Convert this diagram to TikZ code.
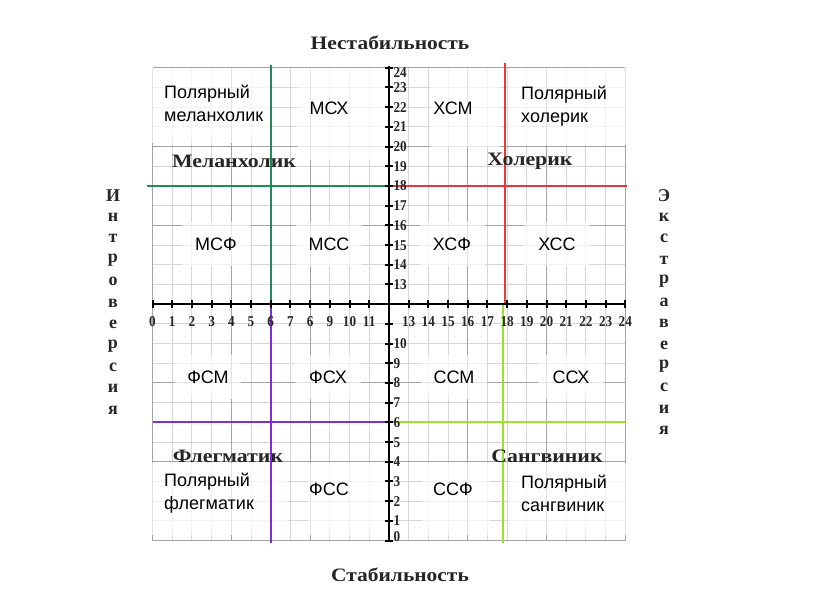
\documentclass[tikz,border=0pt]{standalone}
\usepackage{fontspec}
\setmainfont{Liberation Serif}
\newfontfamily\lsans{Liberation Sans}
\definecolor{mgreen}{HTML}{1F8C5C}
\definecolor{mred}{HTML}{E03A3A}
\definecolor{mpurple}{HTML}{7B2FD6}
\definecolor{mlime}{HTML}{9EE02A}
\definecolor{gridminor}{HTML}{D6D6D6}
\definecolor{gridmajor}{HTML}{A4A4A4}
\definecolor{titlegray}{HTML}{262626}
\tikzset{
  codetext/.style={font=\lsans\fontsize{18}{23}\selectfont, inner sep=0pt, text=black},
  polar/.style={codetext, align=left, anchor=west},
  whitebox/.style={fill=white, fill opacity=0.7, draw=none},
  typetext/.style={font=\bfseries\fontsize{19}{20}\selectfont, text=titlegray, inner sep=0pt},
  axistitle/.style={font=\bfseries\fontsize{19}{20}\selectfont, text=titlegray, inner sep=0pt},
  vletter/.style={font=\bfseries\fontsize{18}{19}\selectfont, text=titlegray, inner sep=0pt},
  numlab/.style={font=\bfseries\fontsize{15}{16}\selectfont, text=titlegray, inner sep=0pt},
  axisline/.style={line width=2.6pt, black},
  tickline/.style={line width=2pt, black},
  typeline/.style={line width=2pt},
}
\newcommand{\nb}[1]{\scalebox{0.88}[1]{#1}}
\begin{document}
\begin{tikzpicture}[x=1pt,y=-1pt]
\useasboundingbox (0,0) rectangle (818,598);
\fill[white] (0,0) rectangle (818,598);
% grid
\begin{scope}[shift={(152.5,540.5)},x=19.7pt,y=19.7pt]
  \draw[gridminor, line width=0.9pt, step=1] (0,0) grid (24,24);
  \draw[gridmajor, line width=1.1pt, step=4] (0,0) grid (24,24);
\end{scope}
% white boxes
\fill[whitebox] (152,68) rectangle (270,143);
\fill[whitebox] (297,68) rectangle (388,160);
\fill[whitebox] (430,68) rectangle (500,147);
\fill[whitebox] (508,68) rectangle (627,145);
\fill[whitebox] (182,222) rectangle (250,266);
\fill[whitebox] (296,222) rectangle (362,266);
\fill[whitebox] (420,222) rectangle (485,266);
\fill[whitebox] (524,222) rectangle (590,266);
\fill[whitebox] (175,355) rectangle (241,399);
\fill[whitebox] (295,355) rectangle (361,399);
\fill[whitebox] (421,355) rectangle (487,399);
\fill[whitebox] (538,355) rectangle (604,399);
\fill[whitebox] (152,463) rectangle (288,535);
\fill[whitebox] (308,463) rectangle (386,535);
\fill[whitebox] (422,463) rectangle (490,535);
\fill[whitebox] (508,463) rectangle (627,535);
\begin{scope}[shift={(152.5,540.5)},x=19.7pt,y=19.7pt]
  % type lines
  \draw[typeline, mgreen] (6,24.15) -- (6,12);
  \draw[typeline, mgreen] (-0.3,18) -- (12,18);
  \draw[typeline, mred] (17.9,24.25) -- (17.9,12);
  \draw[typeline, mred] (12,18) -- (24.1,18);
  \draw[typeline, mpurple] (6,12) -- (6,-0.15);
  \draw[typeline, mpurple] (0,6) -- (12,6);
  \draw[typeline, mlime] (17.8,12) -- (17.8,-0.15);
  \draw[typeline, mlime] (12,6) -- (24,6);
  % axes
  \draw[axisline] (0,12) -- (24,12);
  \draw[axisline] (12,0) -- (12,24.1);
  \foreach \i in {0,...,24} {
    \draw[tickline] (\i,12) ++(0,-4pt) -- ++(0,8pt);
    \draw[tickline] (12,\i) ++(-4pt,0) -- ++(8pt,0);
  }
  % x labels
  \foreach \i/\t in {0/0,1/1,2/2,3/3,4/4,5/5,6/6,7/7,8/6,9/9,10/10,11/11,
                     13/13,14/14,15/15,16/16,17/17,18/18,19/19,20/20,21/21,22/22,23/23,24/24}
    \node[numlab, anchor=base] (x\i) at ([yshift=-22pt]\i,12) {\nb{\t}};
  % y labels
  \foreach \j in {1,...,10,13,14,...,23}
    \node[numlab, anchor=base west] (y\j) at ([xshift=4.5pt,yshift=-5pt]12,\j) {\nb{\j}};
  \node[numlab, anchor=base west] (y24) at ([xshift=4.5pt,yshift=-10pt]12,24) {\nb{24}};
  \node[numlab, anchor=base west] (y0) at ([xshift=4.5pt,yshift=-1pt]12,0) {\nb{0}};
\end{scope}
% code labels
\node[polar] (pm) at (164,103.5) {Полярный\\меланхолик};
\node[polar] (ph) at (521,106) {Полярный\\холерик};
\node[polar] (pf) at (164,493) {Полярный\\флегматик};
\node[polar] (ps) at (521,493) {Полярный\\сангвиник};
\node[codetext] (msx) at (329,108) {МСХ};
\node[codetext] (xsm) at (453,108) {ХСМ};
\node[codetext] (msf) at (216,244) {МСФ};
\node[codetext] (mss) at (329,244) {МСС};
\node[codetext] (xsf) at (452,244) {ХСФ};
\node[codetext] (xss) at (557,244) {ХСС};
\node[codetext] (fsm) at (208,377) {ФСМ};
\node[codetext] (fsx) at (328,377) {ФСХ};
\node[codetext] (ssm) at (454,377) {ССМ};
\node[codetext] (ssx) at (571,377) {ССХ};
\node[codetext] (fss) at (329,489) {ФСС};
\node[codetext] (ssf) at (453,489) {ССФ};
% type names
\node[typetext] (mel) at (234,161) {\scalebox{1.15}[1]{Меланхолик}};
\node[typetext] (hol) at (530,161) {\scalebox{1.15}[1]{Холерик}};
\node[typetext] (fle) at (228,456) {\scalebox{1.15}[1]{Флегматик}};
\node[typetext] (san) at (547,456) {\scalebox{1.15}[1]{Сангвиник}};
% axis titles
\node[axistitle] (nest) at (390,43) {\scalebox{1.13}[1]{Нестабильность}};
\node[axistitle] (stab) at (400,575) {\scalebox{1.13}[1]{Стабильность}};
% vertical words
\foreach \c [count=\k from 0] in {И,н,т,р,о,в,е,р,с,и,я}
  \node[vletter] (intro\k) at (113,{196+21.4*\k}) {\c};
\foreach \c [count=\k from 0] in {Э,к,с,т,р,а,в,е,р,с,и,я}
  \node[vletter] (extra\k) at (664,{196+21.3*\k}) {\c};
\end{tikzpicture}
\end{document}
